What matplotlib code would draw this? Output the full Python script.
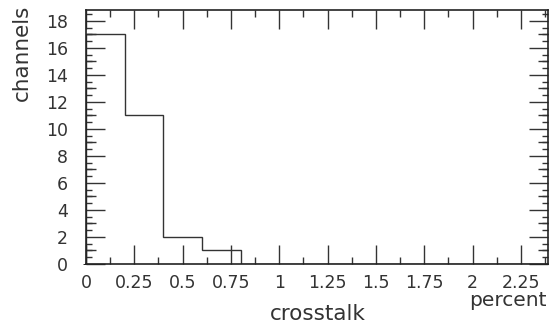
import matplotlib
matplotlib.use('Agg')
import matplotlib.pyplot as plt
from matplotlib.ticker import MultipleLocator, FuncFormatter

# histogram of crosstalk per channel
bin_edges = [0.0, 0.2, 0.4, 0.6, 0.8, 1.0, 1.2, 1.4, 1.6, 1.8, 2.0, 2.2, 2.4]
counts = [17, 11, 2, 1, 0, 0, 0, 0, 0, 0, 0, 0]

ink = '#333333'
fig = plt.figure(figsize=(5.49, 3.25), dpi=100)
ax = fig.add_axes([86/549, 61/325, 462/549, 254/325])

ax.stairs(counts, bin_edges, color=ink, linewidth=1.0)

ax.set_xlim(0, 2.39)
ax.set_ylim(0, 18.8)

ax.xaxis.set_major_locator(MultipleLocator(0.25))
ax.xaxis.set_minor_locator(MultipleLocator(0.125))
ax.yaxis.set_major_locator(MultipleLocator(2))
ax.yaxis.set_minor_locator(MultipleLocator(0.5))
ax.xaxis.set_major_formatter(FuncFormatter(lambda v, p: '%g' % v))

ax.tick_params(which='both', direction='in', top=True, right=True,
               color=ink, labelcolor=ink, labelsize=12.5, width=1)
ax.tick_params(which='major', length=14)
ax.tick_params(axis='x', which='minor', length=5)
ax.tick_params(axis='y', which='minor', length=4)
ax.tick_params(axis='x', pad=7)
ax.tick_params(axis='y', pad=13)

# medium ticks at odd channel counts (ROOT style third tick level)
for side in ('left', 'right'):
    sec = ax.secondary_yaxis(side)
    sec.yaxis.set_major_locator(MultipleLocator(2, offset=1))
    sec.yaxis.set_minor_locator(MultipleLocator(100))
    sec.tick_params(direction='in', length=7, width=1, color=ink,
                    labelleft=False, labelright=False)
    for s in sec.spines.values():
        s.set_visible(False)

for s in ax.spines.values():
    s.set_color('#222222')
    s.set_linewidth(1.2)

fig.text(318/549, 1 - 320/325, 'crosstalk', ha='center', va='baseline',
         fontsize=15.5, color=ink)
fig.text(547/549, 1 - 306/325, 'percent', ha='right', va='baseline',
         fontsize=14.5, color=ink)
fig.text(22/549, 1 - 5/325, 'channels', ha='center', va='top',
         rotation=90, fontsize=15.5, color=ink)

fig.savefig('out.png', dpi=100)
